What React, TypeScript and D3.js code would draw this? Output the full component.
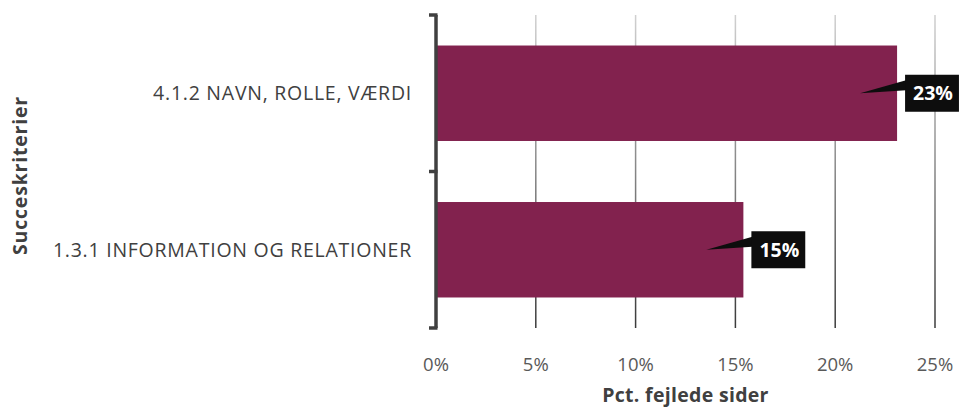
import * as d3 from "d3";
import { useEffect, useRef } from "react";

const categories = ["4.1.2 NAVN, ROLLE, VÆRDI", "1.3.1 INFORMATION OG RELATIONER"];
const values = [23.1, 15.4];
const valueLabels = ["23%", "15%"];
const xTicks = [0, 5, 10, 15, 20, 25];

const W = 961;
const H = 410;
const margin = { top: 15, right: 26, bottom: 82, left: 436 };

const App = () => {
  const svgRef = useRef<SVGSVGElement | null>(null);

  useEffect(() => {
    const svg = d3.select(svgRef.current);
    svg.selectAll("*").remove();

    const innerW = W - margin.left - margin.right;
    const innerH = H - margin.top - margin.bottom;

    const x = d3.scaleLinear().domain([0, 25]).range([0, innerW]);
    const y = d3.scaleBand().domain(categories).range([0, innerH]).paddingInner(0.39).paddingOuter(0.195);

    const defs = svg.append("defs");
    const grad = defs
      .append("linearGradient")
      .attr("id", "gridGrad")
      .attr("gradientUnits", "userSpaceOnUse")
      .attr("x1", 0)
      .attr("y1", 0)
      .attr("x2", 0)
      .attr("y2", innerH);
    grad.append("stop").attr("offset", "0%").attr("stop-color", "#d0d0d0");
    grad.append("stop").attr("offset", "100%").attr("stop-color", "#3a3a3a");

    const g = svg.append("g").attr("transform", `translate(${margin.left},${margin.top})`);

    // gridlines
    g.selectAll("line.grid")
      .data(xTicks.filter((t) => t > 0))
      .enter()
      .append("line")
      .attr("x1", (d) => x(d))
      .attr("x2", (d) => x(d))
      .attr("y1", 0)
      .attr("y2", innerH)
      .attr("stroke", "url(#gridGrad)")
      .attr("stroke-width", 1.5);

    // bars
    g.selectAll("rect.bar")
      .data(values)
      .enter()
      .append("rect")
      .attr("x", 0)
      .attr("y", (d, i) => y(categories[i])!)
      .attr("width", (d) => x(d))
      .attr("height", y.bandwidth())
      .attr("fill", "#82224e");

    // y axis bracket
    const bracketYs = [0, innerH / 2, innerH];
    g.append("line")
      .attr("x1", 0)
      .attr("x2", 0)
      .attr("y1", 0)
      .attr("y2", innerH)
      .attr("stroke", "#404040")
      .attr("stroke-width", 3.5);
    g.selectAll("line.tick")
      .data(bracketYs)
      .enter()
      .append("line")
      .attr("x1", -7)
      .attr("x2", 1.5)
      .attr("y1", (d) => d)
      .attr("y2", (d) => d)
      .attr("stroke", "#404040")
      .attr("stroke-width", 3.5);

    // category labels
    g.selectAll("text.cat")
      .data(categories)
      .enter()
      .append("text")
      .attr("x", -24)
      .attr("y", (d) => y(d)! + y.bandwidth() / 2)
      .attr("dy", "0.35em")
      .attr("text-anchor", "end")
      .attr("fill", "#404040")
      .style("font-family", "'Open Sans', sans-serif")
      .style("font-size", "19.5px")
      .style("letter-spacing", "0.75px")
      .text((d) => d);

    // x tick labels
    g.selectAll("text.xt")
      .data(xTicks)
      .enter()
      .append("text")
      .attr("x", (d) => x(d))
      .attr("y", innerH + 43)
      .attr("text-anchor", "middle")
      .attr("fill", "#595959")
      .style("font-family", "'Open Sans', sans-serif")
      .style("font-size", "18.5px")
      .text((d) => `${d}%`);

    // axis titles
    svg
      .append("text")
      .attr("x", margin.left + x(12.5))
      .attr("y", H - 8)
      .attr("text-anchor", "middle")
      .attr("fill", "#404040")
      .style("font-family", "'Open Sans', sans-serif")
      .style("font-weight", "bold")
      .style("font-size", "19.5px")
      .style("letter-spacing", "0.3px")
      .text("Pct. fejlede sider");

    svg
      .append("text")
      .attr("transform", `translate(27,${margin.top + innerH / 2 + 4}) rotate(-90)`)
      .attr("text-anchor", "middle")
      .attr("fill", "#404040")
      .style("font-family", "'Open Sans', sans-serif")
      .style("font-weight", "bold")
      .style("font-size", "19.5px")
      .style("letter-spacing", "0.8px")
      .text("Succeskriterier");

    // callouts
    values.forEach((v, i) => {
      const cy = y(categories[i])! + y.bandwidth() / 2;
      const bx = x(v) + 8;
      const tip = x(v) - 37;
      const cg = g.append("g");
      const txt = cg
        .append("text")
        .attr("x", bx + 8)
        .attr("y", cy)
        .attr("dy", "0.36em")
        .attr("fill", "#ffffff")
        .style("font-family", "'Open Sans', sans-serif")
        .style("font-weight", "bold")
        .style("font-size", "19.5px")
        .text(valueLabels[i]);
      const tw = (txt.node() as SVGTextElement).getComputedTextLength();
      cg.insert("path", "text")
        .attr("d", `M${bx + 1},${cy - 13}L${tip},${cy}L${bx + 1},${cy - 3}Z`)
        .attr("fill", "#0d0d0d");
      cg.insert("rect", "text")
        .attr("x", bx)
        .attr("y", cy - 18.5)
        .attr("width", tw + 14)
        .attr("height", 37)
        .attr("fill", "#0d0d0d");
    });
  }, []);

  return (
    <svg
      ref={svgRef}
      width={W}
      height={H}
      style={{ position: "absolute", left: 0, top: 0, background: "#ffffff" }}
    ></svg>
  );
};

export default App;
